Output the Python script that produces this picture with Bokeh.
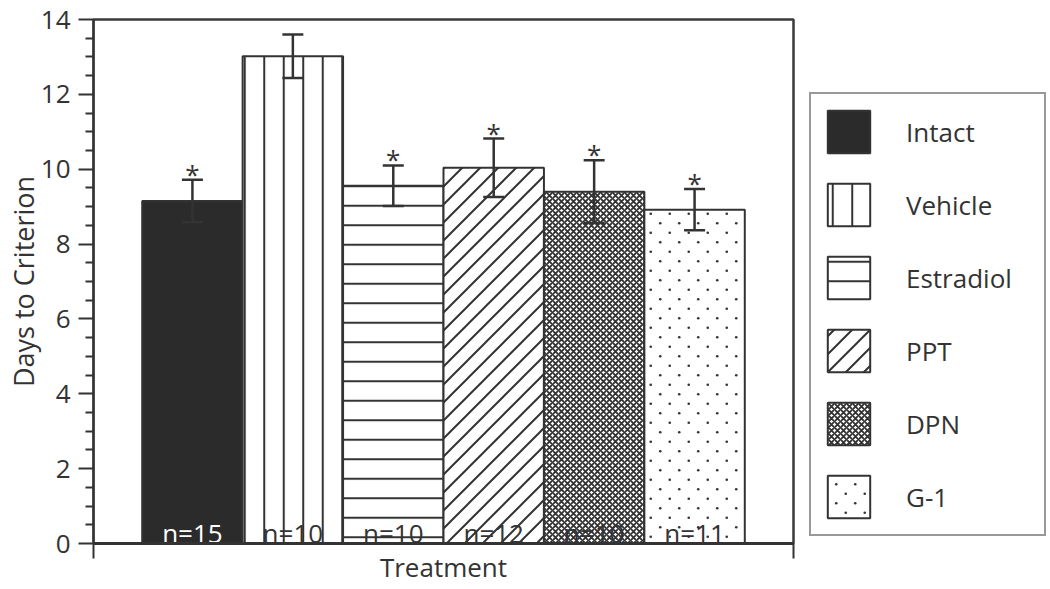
import base64
from bokeh.plotting import figure
from bokeh.layouts import row
from bokeh.models import (ColumnDataSource, Range1d, FixedTicker, Whisker,
                          TeeHead, Legend, LegendItem, ImageURLTexture)
from bokeh.core.properties import value
from bokeh.embed import file_html
from bokeh.resources import INLINE

# ---------------- data ----------------
treatments = ["Intact", "Vehicle", "Estradiol", "PPT", "DPN", "G-1"]
mean_days = [9.15, 13.02, 9.56, 10.04, 9.40, 8.92]
sem_days = [0.57, 0.58, 0.54, 0.78, 0.84, 0.55]
n_labels = ["n=15", "n=10", "n=10", "n=12", "n=10", "n=11"]
significant = [True, False, True, True, True, True]
y_ticks = [0, 2, 4, 6, 8, 10, 12, 14]
y_label = "Days to Criterion"
x_label = "Treatment"

# ---------------- styles ----------------
FONT = "Open Sans"
INK = "#333333"
fill_colors = ["#2b2b2b", "white", "white", "white", "white", "white"]
hatch_patterns = ["blank", "vertical_line", "horizontal_line", "ppt_diag", "diagonal_cross", "g1_dots"]
hatch_scales = [12, 19.5, 19.5, 18, 6, 19]
hatch_weights = [1, 2, 2, 2, 1.9, 1]
n_colors = ["white" if c != "white" else INK for c in fill_colors]


def svg_texture(svg):
    data = base64.b64encode(svg.encode("utf-8")).decode("ascii")
    return ImageURLTexture(url="data:image/svg+xml;base64," + data)


diag_svg = ("<svg xmlns='http://www.w3.org/2000/svg' width='18' height='18'>"
            "<path d='M-2 20 L20 -2 M-2 2 L2 -2 M16 20 L20 16' stroke='#333333' "
            "stroke-width='2' fill='none'/></svg>")
dots_svg = ("<svg xmlns='http://www.w3.org/2000/svg' width='19' height='19'>"
            "<circle cx='4.75' cy='4.75' r='1.3' fill='#333333'/>"
            "<circle cx='14.25' cy='14.25' r='1.3' fill='#333333'/></svg>")
textures = {"ppt_diag": svg_texture(diag_svg), "g1_dots": svg_texture(dots_svg)}

xs = [i + 1 for i in range(len(treatments))]
x_start, x_end = 0.015, len(treatments) + 0.985

src = ColumnDataSource(dict(
    x=xs, name=treatments, mean=mean_days,
    upper=[m + s for m, s in zip(mean_days, sem_days)],
    lower=[m - s for m, s in zip(mean_days, sem_days)],
    n=n_labels, fill=fill_colors, hatch=hatch_patterns,
    hscale=hatch_scales, hweight=hatch_weights, ncolor=n_colors,
))
star_src = ColumnDataSource(dict(
    x=[x for x, s in zip(xs, significant) if s],
    y=[m + e for m, e, s in zip(mean_days, sem_days, significant) if s],
))

bar_style = dict(fill_color="fill", line_color=INK, line_width=2,
                 hatch_pattern="hatch", hatch_scale="hscale", hatch_weight="hweight",
                 hatch_color=INK, hatch_extra=textures)

H = 588

# ---------------- main chart ----------------
p = figure(width=797, height=H, x_range=Range1d(x_start, x_end), y_range=Range1d(0, 14),
           output_backend="svg", toolbar_location=None,
           min_border_left=93, min_border_right=4, min_border_top=19, min_border_bottom=45)
p.grid.visible = False
p.outline_line_color = "#3a3a3a"
p.outline_line_width = 2.5

bars = p.vbar(x="x", top="mean", bottom=0, width=1.0, source=src, **bar_style)

whisk = Whisker(base="x", upper="upper", lower="lower", source=src,
                line_color=INK, line_width=2.5, level="overlay",
                upper_head=TeeHead(size=21, line_color=INK, line_width=2.5),
                lower_head=TeeHead(size=21, line_color=INK, line_width=2.5))
p.add_layout(whisk)

p.text(x="x", y="y", text=value("*"), source=star_src, text_align="center",
       text_baseline="alphabetic", y_offset=-6, text_font=value(FONT),
       text_font_size="26px", text_color=INK)

p.text(x="x", y=0, text="n", source=src, text_align="center", text_baseline="alphabetic",
       y_offset=-11, text_font=value(FONT), text_font_size="26px", text_color="ncolor")

# y axis
minor = [i * 0.5 for i in range(29) if (i * 0.5) not in y_ticks]
ya = p.yaxis[0]
ya.ticker = FixedTicker(ticks=y_ticks, minor_ticks=minor)
ya.major_tick_out = 15
ya.major_tick_in = 0
ya.minor_tick_out = 8
ya.minor_tick_in = 0
ya.axis_line_width = 2
ya.axis_line_color = INK
ya.major_tick_line_color = INK
ya.major_tick_line_width = 2
ya.minor_tick_line_color = INK
ya.minor_tick_line_width = 2
ya.major_label_text_font = FONT
ya.major_label_text_font_size = "26px"
ya.major_label_text_color = INK
ya.major_label_standoff = 8
ya.axis_label = y_label
ya.axis_label_text_font = FONT
ya.axis_label_text_font_size = "27px"
ya.axis_label_text_font_style = "normal"
ya.axis_label_text_color = INK
ya.axis_label_standoff = -4

# x axis
xa = p.xaxis[0]
xa.ticker = FixedTicker(ticks=[x_start, x_end])
xa.major_label_overrides = {x_start: "", x_end: ""}
xa.major_tick_out = 15
xa.major_tick_in = 0
xa.minor_tick_line_color = None
xa.major_tick_line_color = INK
xa.major_tick_line_width = 2
xa.axis_line_width = 3
xa.axis_line_color = INK
xa.major_label_text_font_size = "1px"
xa.major_label_standoff = 0
xa.axis_label = x_label
xa.axis_label_text_font = FONT
xa.axis_label_text_font_size = "26px"
xa.axis_label_text_font_style = "normal"
xa.axis_label_text_color = INK
xa.axis_label_standoff = -10

# ---------------- legend panel ----------------
lp = figure(width=253, height=H, x_range=Range1d(100, 101), y_range=Range1d(0, 14),
            output_backend="svg", toolbar_location=None,
            x_axis_location=None, y_axis_location=None, min_border=0)
lp.grid.visible = False
lp.outline_line_color = None
lbars = lp.vbar(x="x", top="mean", bottom=0, width=1.0, source=src, **bar_style)
lbars.visible = False

legend = Legend(items=[LegendItem(label=t, renderers=[lbars], index=i) for i, t in enumerate(treatments)],
                location=(12, 7), orientation="vertical",
                glyph_width=53, glyph_height=53, spacing=20, padding=11,
                label_standoff=31, label_width=127, margin=0,
                label_text_font=FONT, label_text_font_size="26px", label_text_color=INK,
                border_line_color=INK, border_line_width=2,
                background_fill_color="white", background_fill_alpha=1.0,
                inactive_fill_alpha=0.0)
lp.add_layout(legend)

layout = row(p, lp, spacing=0)
open("out.html", "w").write(file_html(layout, INLINE))
